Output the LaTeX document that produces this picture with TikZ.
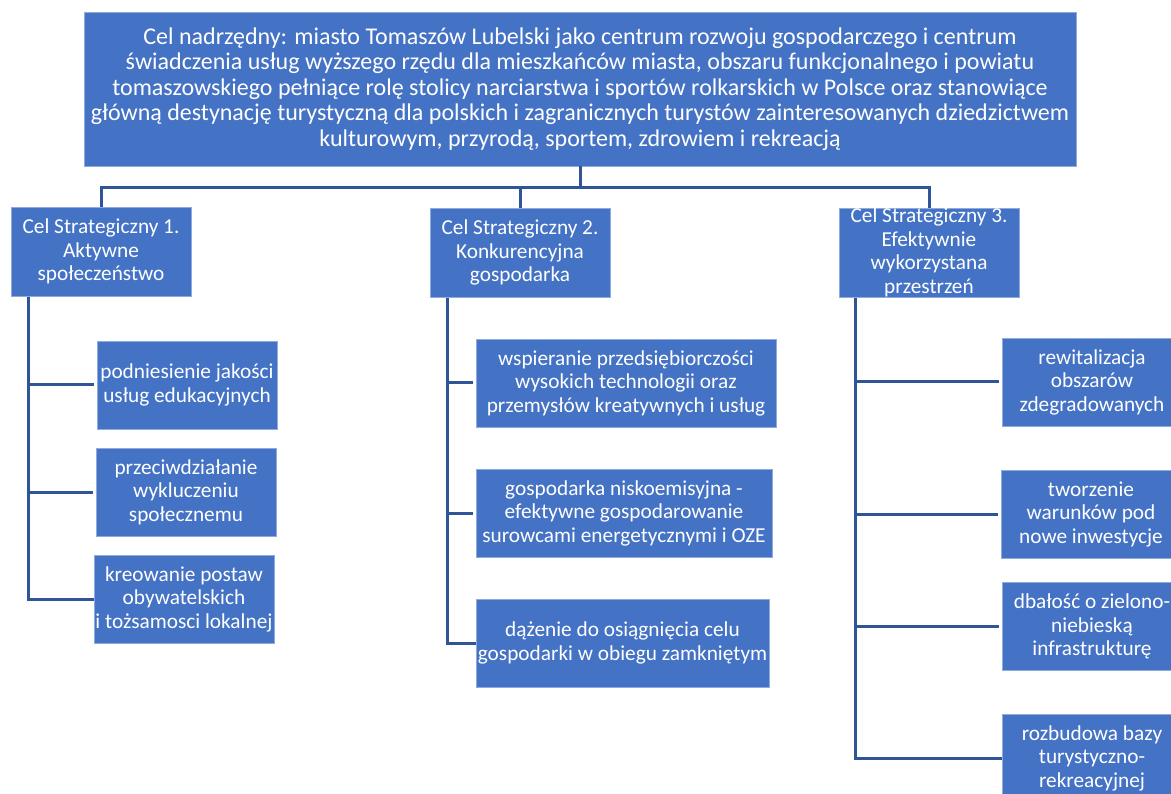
\documentclass[tikz,border=0pt]{standalone}
\usepackage{fontspec}
\setmainfont{Carlito}
\definecolor{boxfill}{HTML}{4472C4}
\definecolor{boxline}{HTML}{8FAADC}
\definecolor{conn}{HTML}{2F5597}
\begin{document}
\begin{tikzpicture}[x=1pt,y=-1pt,
  goalbox/.style={fill=boxfill, draw=boxline, line width=0.6pt, text=white, align=center, inner sep=0pt,
    font=\fontsize{21.3}{23.5}\selectfont},
  topbox/.style={goalbox, font=\fontsize{24}{25.6}\selectfont},
  link/.style={draw=conn, line width=3pt},
  branch/.style={link, shorten >=3pt}]
\useasboundingbox (0,0) rectangle (1171,794);
\clip (0,0) rectangle (1171,794);

\node[topbox, minimum width=992pt, minimum height=154pt] (top) at (580,89)
 {Cel nadrzędny: miasto Tomaszów Lubelski jako centrum rozwoju gospodarczego i centrum\\
  świadczenia usług wyższego rzędu dla mieszkańców miasta, obszaru funkcjonalnego i powiatu\\
  tomaszowskiego pełniące rolę stolicy narciarstwa i sportów rolkarskich w Polsce oraz stanowiące\\
  główną destynację turystyczną dla polskich i zagranicznych turystów zainteresowanych dziedzictwem\\
  kulturowym, przyrodą, sportem, zdrowiem i rekreacją};

\node[goalbox, minimum width=180pt, minimum height=89pt] (s1) at (101,251.5)
 {Cel Strategiczny 1.\\ Aktywne\\ społeczeństwo};
\node[goalbox, minimum width=180pt, minimum height=89pt] (s2) at (520,252.5)
 {Cel Strategiczny 2.\\ Konkurencyjna\\ gospodarka};
\node[goalbox, minimum width=180pt, minimum height=89pt] (s3) at (929,252.5)
 {Cel Strategiczny 3.\\ Efektywnie\\ wykorzystana\\ przestrzeń};

\node[goalbox, minimum width=180pt, minimum height=88pt] (a) at (187,385)
 {podniesienie jakości\\ usług edukacyjnych};
\node[goalbox, minimum width=180pt, minimum height=88pt] (b) at (186,492)
 {przeciwdziałanie\\ wykluczeniu\\ społecznemu};
\node[goalbox, minimum width=180pt, minimum height=88pt] (c) at (184,599)
 {kreowanie postaw\\ obywatelskich\\ i tożsamosci lokalnej};

\node[goalbox, minimum width=300pt, minimum height=88pt] (d) at (626,383)
 {wspieranie przedsiębiorczości\\ wysokich technologii oraz\\ przemysłów kreatywnych i usług};
\node[goalbox, minimum width=296pt, minimum height=88pt] (e) at (624,513)
 {gospodarka niskoemisyjna -\\ efektywne gospodarowanie\\ surowcami energetycznymi i OZE};
\node[goalbox, minimum width=293pt, minimum height=88pt] (f) at (622.5,643)
 {dążenie do osiągnięcia celu\\ gospodarki w obiegu zamkniętym};

\node[goalbox, minimum width=180pt, minimum height=88pt] (g) at (1092,382)
 {rewitalizacja\\ obszarów\\ zdegradowanych};
\node[goalbox, minimum width=180pt, minimum height=88pt] (h) at (1091,514)
 {tworzenie\\ warunków pod\\ nowe inwestycje};
\node[goalbox, minimum width=180pt, minimum height=88pt] (i) at (1092,626.5)
 {dbałość o zielono-\\ niebieską\\ infrastrukturę};
\node[goalbox, minimum width=180pt, minimum height=88pt] (j) at (1092,758)
 {rozbudowa bazy\\ turystyczno-\\ rekreacyjnej};

% top bus
\coordinate (bus) at (580,188);
\draw[link] (top.south) -- (bus);
\draw[link] (s1.north) |- (bus);
\draw[link] (s2.north) |- (bus);
\draw[link] (s3.north) |- (bus);

% column 1
\coordinate (sp1) at (28,297);
\draw[link] (sp1) |- (c.west);
\draw[branch] (sp1 |- a.west) -- (a.west);
\draw[branch] (sp1 |- b.west) -- (b.west);
\draw[branch] (sp1 |- c.west) -- (c.west);

% column 2
\coordinate (sp2) at (447,298);
\draw[link] (sp2) |- (f.west);
\draw[branch] (sp2 |- d.west) -- (d.west);
\draw[branch] (sp2 |- e.west) -- (e.west);
\draw[branch] (sp2 |- f.west) -- (f.west);

% column 3
\coordinate (sp3) at (855,298);
\draw[link] (sp3) |- (j.west);
\draw[branch] (sp3 |- g.west) -- (g.west);
\draw[branch] (sp3 |- h.west) -- (h.west);
\draw[branch] (sp3 |- i.west) -- (i.west);
\draw[branch] (sp3 |- j.west) -- (j.west);
\end{tikzpicture}
\end{document}
